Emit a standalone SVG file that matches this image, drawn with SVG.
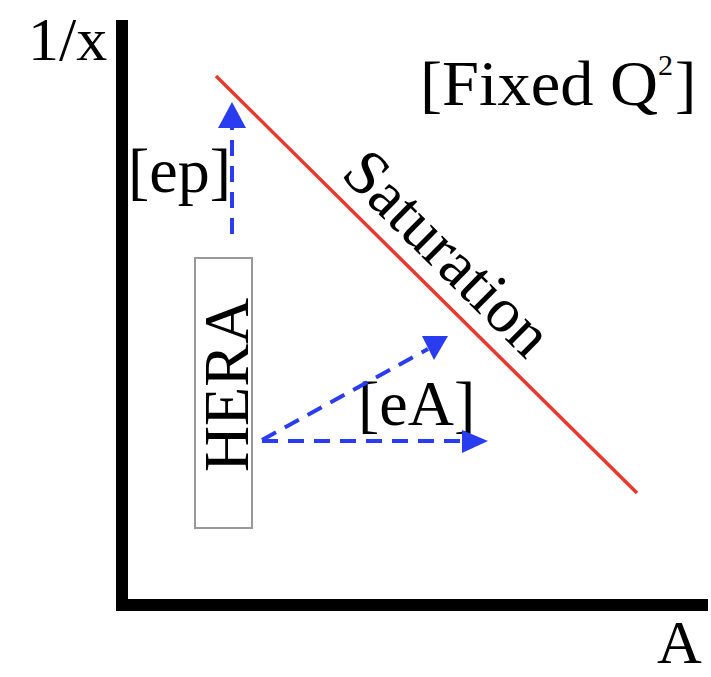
<svg xmlns="http://www.w3.org/2000/svg" width="711" height="677" viewBox="0 0 711 677">
<style>
text{font-family:"Liberation Serif","Times New Roman",serif;fill:#000;font-size:64px}
text.sup{font-size:30px}
text.small{font-size:62px}
.dash{stroke:#2a3cf0;stroke-width:4;fill:none;stroke-dasharray:16 10}
</style>
<rect width="711" height="677" fill="#fff"/>
<g id="axes">
<path d="M122,20 V605 H708" stroke="#000" stroke-width="12" fill="none"/>
<text class="small" x="28" y="60">1/x</text>
<text class="small" x="657" y="663">A</text>
</g>
<g id="saturation">
<line x1="216" y1="76" x2="637" y2="493" stroke="#e8392e" stroke-width="3.5"/>
<text transform="translate(433,268) rotate(44.7)" text-anchor="middle">Saturation</text>
</g>
<g id="fixedq">
<text x="420" y="105" textLength="238" lengthAdjust="spacingAndGlyphs">[Fixed Q</text>
<text class="sup" x="658" y="75">2</text>
<text x="675" y="105">]</text>
</g>
<g id="hera">
<rect x="195" y="258" width="57" height="270" fill="none" stroke="#999" stroke-width="2"/>
<text transform="translate(248,385) rotate(-90)" text-anchor="middle">HERA</text>
</g>
<g id="labels">
<text x="128" y="192">[ep]</text>
<text x="358" y="425">[eA]</text>
</g>
<g id="connectors">
<line class="dash" x1="232" y1="234" x2="232" y2="128"/>
<path d="M218,128 L232,102 L246,128 z" fill="#2a3cf0"/>
<line class="dash" x1="262" y1="441" x2="462" y2="441"/>
<path d="M462,430 L488,441 L462,453 z" fill="#2a3cf0"/>
<line class="dash" x1="262" y1="440" x2="428" y2="349"/>
<path d="M422,336 L448,336 L434,360 z" fill="#2a3cf0"/>
</g>
</svg>
